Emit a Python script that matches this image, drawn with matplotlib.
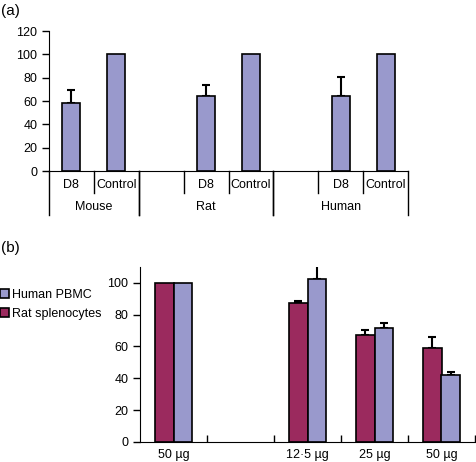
import matplotlib
matplotlib.use('Agg')
from matplotlib import pyplot as plt
from matplotlib.patches import Patch

plt.rcParams['font.family'] = ['Liberation Sans', 'DejaVu Sans']
plt.rcParams['font.size'] = 9

# panel (a)
species = ['Mouse', 'Rat', 'Human']
conditions = ['D8', 'Control']
a_values = [[58, 100], [64, 100], [64.5, 100]]
a_errors = [[11.5, 0], [10, 0], [16.5, 0]]

# panel (b)
doses = ['50 \u00b5g', '', '12\u00b75 \u00b5g', '25 \u00b5g', '50 \u00b5g']
rat_values = [100, None, 87, 67, 59]
rat_errors = [0, None, 1.7, 3.3, 7]
human_values = [100, None, 102, 71.4, 42]
human_errors = [0, None, 9, 3.3, 2]

lavender = '#9999cc'
maroon = '#9b2a5e'

fig = plt.figure(figsize=(4.76, 4.62), dpi=100)

# ---------------- (a) ----------------
axa = fig.add_axes([49/476, 291/462, (408-49)/476, 140/462])
pos = 0
for i, sp in enumerate(species):
    if i > 0:
        pos += 1  # empty slot before Rat / Human
    start = pos
    for j, cond in enumerate(conditions):
        axa.bar(pos, a_values[i][j], width=0.4, color=lavender, edgecolor='black', linewidth=1.2, zorder=2)
        if a_errors[i][j] > 0:
            axa.errorbar(pos, a_values[i][j], yerr=[[0], [a_errors[i][j]]], fmt='none',
                         ecolor='black', elinewidth=1.5, capsize=3, capthick=1.5, zorder=1)
        axa.text(pos, -0.10, cond, transform=axa.get_xaxis_transform(), ha='center', va='center')
        # short separator on the left of each bar slot
        if pos - 0.5 > -0.5:
            axa.plot([pos - 0.5, pos - 0.5], [0, -0.157], transform=axa.get_xaxis_transform(),
                     color='black', lw=1, clip_on=False)
        pos += 1
    end = pos - 1
    grp_left = start - 0.5 if i == 0 else start - 1.5
    axa.text((grp_left + end + 0.5) / 2, -0.257, sp, transform=axa.get_xaxis_transform(),
             ha='center', va='center')
    for xx in [grp_left, end + 0.5]:
        axa.plot([xx, xx], [0, -0.314], transform=axa.get_xaxis_transform(),
                 color='black', lw=1, clip_on=False)

axa.set_xlim(-0.5, pos - 0.5)
axa.set_ylim(0, 120)
axa.set_yticks(range(0, 121, 20))
axa.set_xticks([])
for s in ['top', 'right']:
    axa.spines[s].set_visible(False)
axa.tick_params(axis='y', direction='out', length=5, width=1)
fig.text(1/476, 1 - 11/462, '(a)', fontsize=11, va='center', ha='left')

# ---------------- (b) ----------------
axb = fig.add_axes([140/476, 20/462, (475-140)/476, (442-266.7)/462])
bw = 0.28
for k in range(len(doses)):
    if rat_values[k] is None:
        continue
    axb.bar(k - bw/2, rat_values[k], width=bw, color=maroon, edgecolor='black', linewidth=1.2, zorder=2)
    axb.bar(k + bw/2, human_values[k], width=bw, color=lavender, edgecolor='black', linewidth=1.2, zorder=2)
    if rat_errors[k] > 0:
        axb.errorbar(k - bw/2, rat_values[k], yerr=[[0], [rat_errors[k]]], fmt='none',
                     ecolor='black', elinewidth=1.5, capsize=3, capthick=1.5, zorder=1)
    if human_errors[k] > 0:
        axb.errorbar(k + bw/2, human_values[k], yerr=[[0], [human_errors[k]]], fmt='none',
                     ecolor='black', elinewidth=1.5, capsize=3, capthick=1.5, zorder=1)

axb.set_xlim(-0.5, len(doses) - 0.5)
axb.set_ylim(0, 110)
axb.set_yticks(range(0, 101, 20))
axb.set_xticks([k + 0.5 for k in range(len(doses))])
axb.set_xticklabels([])
axb.tick_params(axis='x', direction='in', length=5, width=1)
axb.set_xticks(range(len(doses)), minor=True)
axb.set_xticklabels(doses, minor=True)
axb.tick_params(axis='x', which='minor', length=0, pad=5)
axb.tick_params(axis='y', direction='out', length=5, width=1)
for s in ['top', 'right']:
    axb.spines[s].set_visible(False)
fig.text(1/476, 1 - 248/462, '(b)', fontsize=11, va='center', ha='left')

handles = [Patch(facecolor=lavender, edgecolor='black', linewidth=1.2),
           Patch(facecolor=maroon, edgecolor='black', linewidth=1.2)]
fig.legend(handles, ['Human PBMC', 'Rat splenocytes'], loc='upper left',
           bbox_to_anchor=(0.0, 1 - 289/462), frameon=False, handlelength=0.7,
           handleheight=0.7, handletextpad=0.3, labelspacing=0.55, borderaxespad=0,
           borderpad=0, fontsize=9)

plt.savefig('out.png', dpi=100)
